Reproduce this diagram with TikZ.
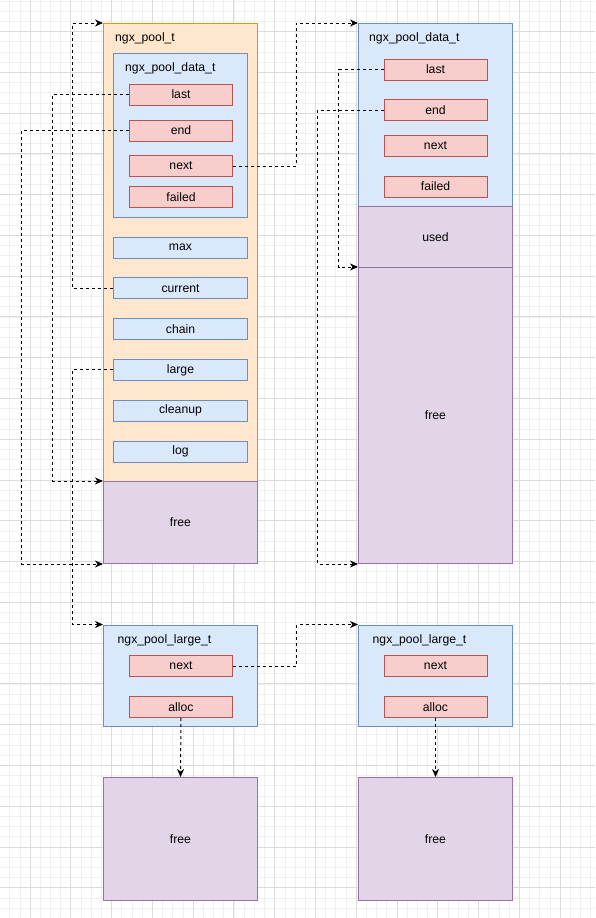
\documentclass[tikz,border=0pt]{standalone}
\usepackage{fontspec}
\setmainfont{Liberation Sans}
\usetikzlibrary{arrows.meta}
\definecolor{orfill}{HTML}{FFE6CC}
\definecolor{orline}{HTML}{D79B00}
\definecolor{bufill}{HTML}{DAE8FC}
\definecolor{buline}{HTML}{6C8EBF}
\definecolor{rdfill}{HTML}{F8CECC}
\definecolor{rdline}{HTML}{B85450}
\definecolor{pufill}{HTML}{E1D5E7}
\definecolor{puline}{HTML}{9673A6}
\begin{document}
\begin{tikzpicture}[x=1pt,y=-1pt,
    font=\fontsize{12.2}{14}\selectfont,
    blk/.style={line width=1pt, inner sep=0pt, anchor=north west},
    orbox/.style={blk, draw=orline, fill=orfill},
    bubox/.style={blk, draw=buline, fill=bufill},
    pubox/.style={blk, draw=puline, fill=pufill, minimum width=154pt},
    cell/.style={blk, draw=rdline, fill=rdfill, minimum width=103pt, minimum height=21pt},
    member/.style={bubox, minimum width=134pt, minimum height=21pt},
    title/.style={anchor=west, inner sep=0pt},
    link/.style={line width=1pt, dash pattern=on 3pt off 3pt,
      -{Stealth[length=8pt, width=7pt, inset=2.5pt]}},
    finegrid/.style={line width=.6pt, black!6},
    maingrid/.style={line width=.8pt, black!14}]
  \useasboundingbox[fill=white] (0,0) rectangle (595,918);
  % background grid
  \foreach \k in {-2,...,56}
    \draw[finegrid] ({30+10.1925*\k},0) -- ({30+10.1925*\k},918);
  \foreach \k in {-3,...,87}
    \draw[finegrid] (0,{31.5+10.1925*\k}) -- (595,{31.5+10.1925*\k});
  \foreach \k in {0,...,13}
    \draw[maingrid] ({30+40.77*\k},0) -- ({30+40.77*\k},918);
  \foreach \k in {0,...,21}
    \draw[maingrid] (0,{31.5+40.77*\k}) -- (595,{31.5+40.77*\k});

  % ngx_pool_t
  \node[orbox, minimum width=154pt, minimum height=458pt] (pool) at (103,23) {};
  \node[title] (pooltitle) at (115,38) {ngx\_pool\_t};
  \node[pubox, minimum height=82pt] (poolfree) at (103,481) {free};
  \node[bubox, minimum width=134pt, minimum height=164pt] (ldata) at (113,53) {};
  \node[title] (ldatatitle) at (125,68) {ngx\_pool\_data\_t};
  \node[cell] (ldlast) at (129,83.5) {last};
  \node[cell] (ldend) at (129,119.5) {end};
  \node[cell] (ldnext) at (129,155) {next};
  \node[cell] (ldfailed) at (129,186) {failed};
  \node[member] (max) at (113,236.5) {max};
  \node[member] (current) at (113,277.3) {current};
  \node[member] (chain) at (113,318.1) {chain};
  \node[member] (large) at (113,358.9) {large};
  \node[member] (cleanup) at (113,399.7) {cleanup};
  \node[member] (log) at (113,440.5) {log};

  % second ngx_pool_data_t
  \node[bubox, minimum width=154pt, minimum height=183pt] (rdata) at (358,23) {};
  \node[title] (rdatatitle) at (369,38) {ngx\_pool\_data\_t};
  \node[cell] (rdlast) at (383.5,58.5) {last};
  \node[cell] (rdend) at (383.5,99) {end};
  \node[cell] (rdnext) at (383.5,135) {next};
  \node[cell] (rdfailed) at (383.5,175.5) {failed};
  \node[pubox, minimum height=61pt] (rused) at (358,206) {used};
  \node[pubox, minimum height=296pt] (rfree) at (358,267) {free};

  % ngx_pool_large_t
  \node[bubox, minimum width=154pt, minimum height=101.5pt] (lgone) at (103,624.5) {};
  \node[title] (lgonetitle) at (117.5,640) {ngx\_pool\_large\_t};
  \node[cell] (lgonenext) at (129,655) {next};
  \node[cell] (lgonealloc) at (129,696) {alloc};
  \node[pubox, minimum height=123pt] (lgonefree) at (103,777) {free};
  \node[bubox, minimum width=154pt, minimum height=101.5pt] (lgtwo) at (358,624.5) {};
  \node[title] (lgtwotitle) at (372.5,640) {ngx\_pool\_large\_t};
  \node[cell] (lgtwonext) at (383.5,655) {next};
  \node[cell] (lgtwoalloc) at (383.5,696) {alloc};
  \node[pubox, minimum height=123pt] (lgtwofree) at (358,777) {free};

  \begin{scope}[link]
    \draw (current.west) -- ++(-40.5,0) |- (pool.north west);
    \draw (ldlast.west) -- ++(-76.5,0) |- (poolfree.north west);
    \draw (ldend.west) -- ++(-107.5,0) |- (poolfree.south west);
    \draw (ldnext.east) -- ++(63,0) |- (rdata.north west);
    \draw (rdlast.west) -- ++(-45,0) |- (rfree.north west);
    \draw (rdend.west) -- ++(-66,0) |- (rfree.south west);
    \draw (large.west) -- ++(-40.5,0) |- (lgone.north west);
    \draw (lgonenext.east) -- ++(63.5,0) |- (lgtwo.north west);
    \draw (lgonealloc.south) -- (lgonefree.north);
    \draw (lgtwoalloc.south) -- (lgtwofree.north);
  \end{scope}
\end{tikzpicture}
\end{document}
